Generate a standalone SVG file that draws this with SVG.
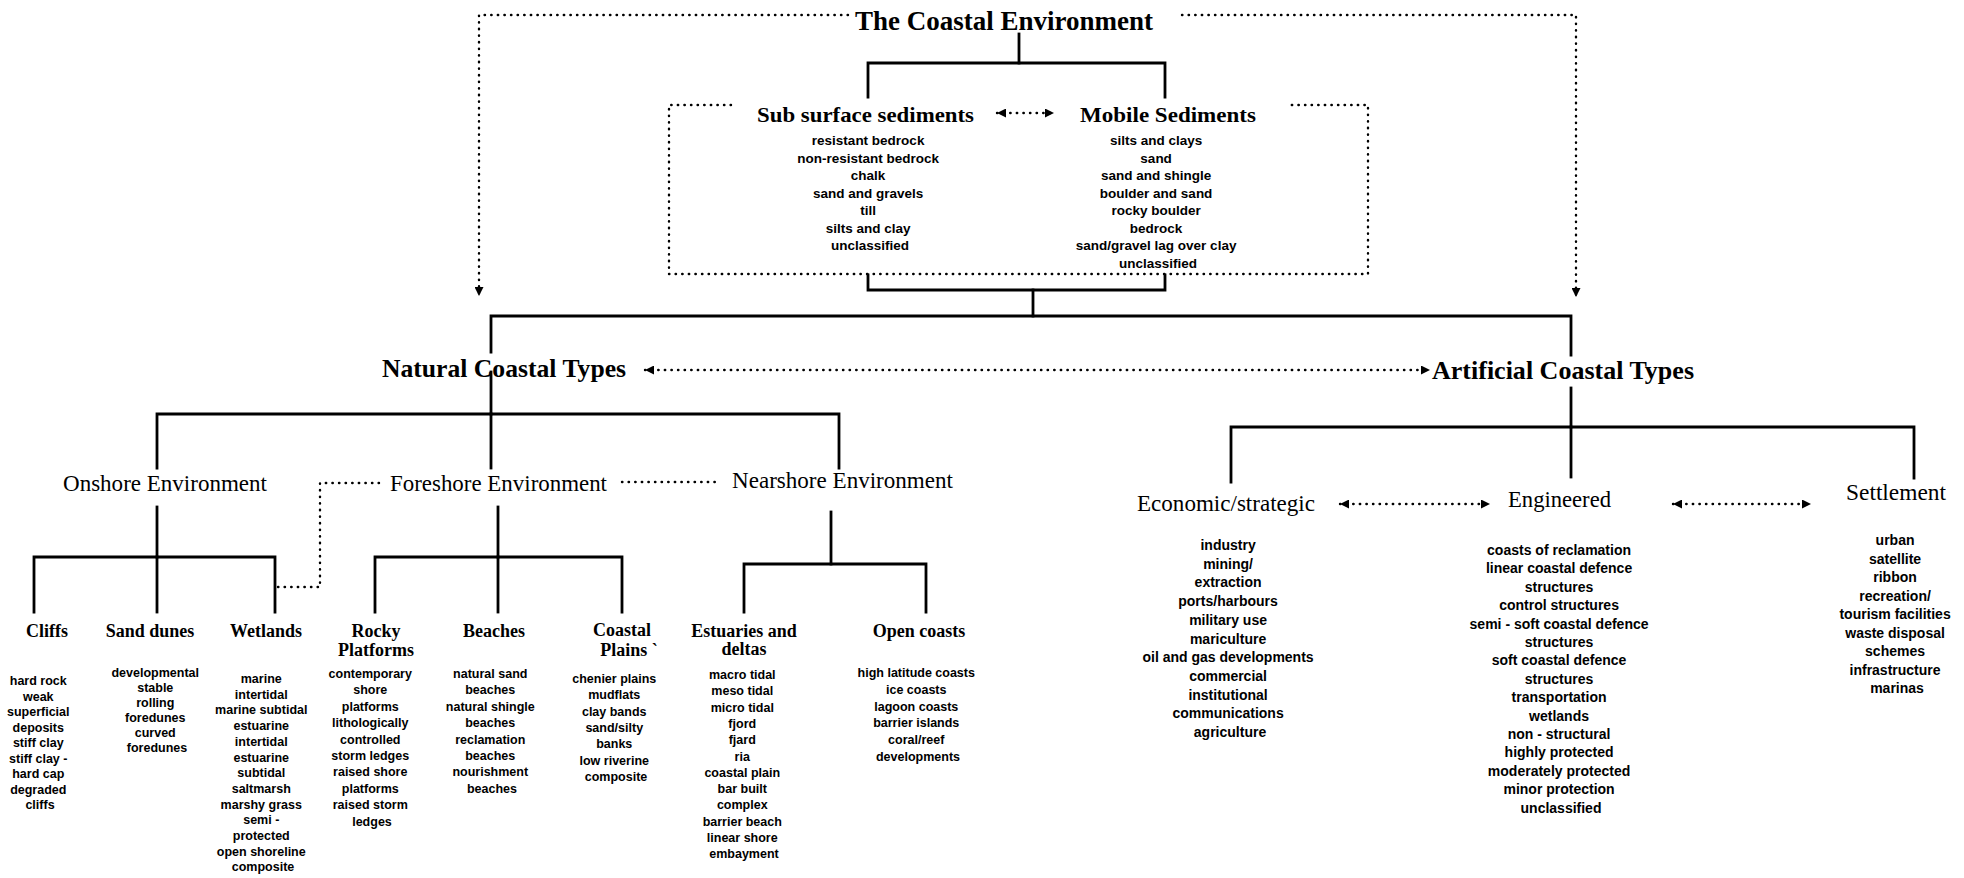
<svg xmlns="http://www.w3.org/2000/svg" width="1964" height="878" viewBox="0 0 1964 878">
  <style>
    .ln { fill: none; stroke: #000; stroke-width: 2.8; stroke-linecap: square; }
    .dot { fill: none; stroke: #000; stroke-width: 2.4; stroke-dasharray: 0.4 6.2; stroke-linecap: round; }
    text { fill: #000; }
    .h1 { font-family: "Liberation Serif", serif; font-weight: bold; font-size: 28px; }
    .h2 { font-family: "Liberation Serif", serif; font-weight: bold; font-size: 21px; }
    .h3 { font-family: "Liberation Serif", serif; font-weight: bold; font-size: 26px; }
    .env { font-family: "Liberation Serif", serif; font-size: 23px; }
    .leaf { font-family: "Liberation Serif", serif; font-weight: bold; font-size: 18px; text-anchor: middle; }
    .it { font-family: "Liberation Sans", Arial, sans-serif; font-weight: bold; font-size: 12.5px; text-anchor: middle; }
    .it2 { font-family: "Liberation Sans", Arial, sans-serif; font-weight: bold; font-size: 13.5px; text-anchor: middle; }
    .it3 { font-family: "Liberation Sans", Arial, sans-serif; font-weight: bold; font-size: 14px; text-anchor: middle; }
  </style>
  <defs>
    <marker id="ah" viewBox="0 0 10 10" refX="10" refY="5" markerWidth="9" markerHeight="9" markerUnits="userSpaceOnUse" orient="auto-start-reverse">
      <path d="M0 0 L10 5 L0 10 Z" fill="#000"/>
    </marker>
  </defs>
  <rect width="1964" height="878" fill="#fff"/>

  <!-- connectors -->
  <g id="connectors">
    <!-- dotted links and arrows -->
    <path class="dot" d="M848 15 H479 V296" marker-end="url(#ah)"/>
    <path class="dot" d="M1182 15 H1576 V297" marker-end="url(#ah)"/>
    <path class="dot" d="M731 105 H669 V274 H1368 V105 H1290"/>
    <path class="dot" d="M997 113 H1054" marker-start="url(#ah)" marker-end="url(#ah)"/>
    <path class="dot" d="M645 370 H1430" marker-start="url(#ah)" marker-end="url(#ah)"/>
    <path class="dot" d="M278 587 H320 V483 H382"/>
    <path class="dot" d="M622 482 H719"/>
    <path class="dot" d="M1340 504 H1490" marker-start="url(#ah)" marker-end="url(#ah)"/>
    <path class="dot" d="M1673 504 H1811" marker-start="url(#ah)" marker-end="url(#ah)"/>

    <!-- solid tree lines -->
    <path class="ln" d="M1019 34 V63"/>
    <path class="ln" d="M868 97 V63 H1165 V97"/>
    <path class="ln" d="M868 275 V290 H1165 V275"/>
    <path class="ln" d="M1033 290 V316"/>
    <path class="ln" d="M491 352 V316 H1571 V355"/>
    <path class="ln" d="M491 372 V414"/>
    <path class="ln" d="M157 468 V414 H839 V468"/>
    <path class="ln" d="M491 414 V468"/>
    <path class="ln" d="M157 507 V557"/>
    <path class="ln" d="M34 612 V557 H275 V612"/>
    <path class="ln" d="M157 557 V612"/>
    <path class="ln" d="M498 507 V557"/>
    <path class="ln" d="M375 612 V557 H622 V612"/>
    <path class="ln" d="M498 557 V612"/>
    <path class="ln" d="M831 512 V564"/>
    <path class="ln" d="M744 612 V564 H926 V612"/>
    <path class="ln" d="M1571 388 V427"/>
    <path class="ln" d="M1231 482 V427 H1914 V478"/>
    <path class="ln" d="M1571 427 V477"/>
  </g>

  <!-- top -->
  <g id="coastal-environment">
    <text class="h1" x="855" y="30" textLength="298" lengthAdjust="spacingAndGlyphs">The Coastal Environment</text>
  </g>

  <g id="sub-surface-sediments">
    <text class="h2" x="757" y="122" textLength="217" lengthAdjust="spacingAndGlyphs">Sub surface sediments</text>
    <text class="it2">
      <tspan x="870" y="145">resistant bedrock</tspan>
      <tspan x="870" dy="17.5">non-resistant bedrock</tspan>
      <tspan x="870" dy="17.5">chalk</tspan>
      <tspan x="870" dy="17.5">sand and gravels</tspan>
      <tspan x="870" dy="17.5">till</tspan>
      <tspan x="870" dy="17.5">silts and clay</tspan>
      <tspan x="870" dy="17.5">unclassified</tspan>
    </text>
  </g>

  <g id="mobile-sediments">
    <text class="h2" x="1080" y="122" textLength="176" lengthAdjust="spacingAndGlyphs">Mobile Sediments</text>
    <text class="it2">
      <tspan x="1158" y="145">silts and clays</tspan>
      <tspan x="1158" dy="17.5">sand</tspan>
      <tspan x="1158" dy="17.5">sand and shingle</tspan>
      <tspan x="1158" dy="17.5">boulder and sand</tspan>
      <tspan x="1158" dy="17.5">rocky boulder</tspan>
      <tspan x="1158" dy="17.5">bedrock</tspan>
      <tspan x="1158" dy="17.5">sand/gravel lag over clay</tspan>
      <tspan x="1158" dy="17.5">unclassified</tspan>
    </text>
  </g>

  <!-- natural branch -->
  <g id="natural-coastal-types">
    <text class="h3" x="382" y="377" textLength="244" lengthAdjust="spacingAndGlyphs">Natural Coastal Types</text>
  </g>

  <g id="onshore-environment">
    <text class="env" x="63" y="491" textLength="204" lengthAdjust="spacingAndGlyphs">Onshore Environment</text>
  </g>
  <g id="foreshore-environment">
    <text class="env" x="390" y="491" textLength="217" lengthAdjust="spacingAndGlyphs">Foreshore Environment</text>
  </g>
  <g id="nearshore-environment">
    <text class="env" x="732" y="488" textLength="221" lengthAdjust="spacingAndGlyphs">Nearshore Environment</text>
  </g>

  <g id="cliffs">
    <text class="leaf" x="47" y="637">Cliffs</text>
    <text class="it">
      <tspan x="40" y="685">hard rock</tspan>
      <tspan x="40" dy="15.5">weak</tspan>
      <tspan x="40" dy="15.5">superficial</tspan>
      <tspan x="40" dy="15.5">deposits</tspan>
      <tspan x="40" dy="15.5">stiff clay</tspan>
      <tspan x="40" dy="15.5">stiff clay -</tspan>
      <tspan x="40" dy="15.5">hard cap</tspan>
      <tspan x="40" dy="15.5">degraded</tspan>
      <tspan x="40" dy="15.5">cliffs</tspan>
    </text>
  </g>

  <g id="sand-dunes">
    <text class="leaf" x="150" y="637">Sand dunes</text>
    <text class="it">
      <tspan x="157" y="677">developmental</tspan>
      <tspan x="157" dy="15">stable</tspan>
      <tspan x="157" dy="15">rolling</tspan>
      <tspan x="157" dy="15">foredunes</tspan>
      <tspan x="157" dy="15">curved</tspan>
      <tspan x="157" dy="15">foredunes</tspan>
    </text>
  </g>

  <g id="wetlands">
    <text class="leaf" x="266" y="637">Wetlands</text>
    <text class="it">
      <tspan x="263" y="683">marine</tspan>
      <tspan x="263" dy="15.7">intertidal</tspan>
      <tspan x="263" dy="15.7">marine subtidal</tspan>
      <tspan x="263" dy="15.7">estuarine</tspan>
      <tspan x="263" dy="15.7">intertidal</tspan>
      <tspan x="263" dy="15.7">estuarine</tspan>
      <tspan x="263" dy="15.7">subtidal</tspan>
      <tspan x="263" dy="15.7">saltmarsh</tspan>
      <tspan x="263" dy="15.7">marshy grass</tspan>
      <tspan x="263" dy="15.7">semi -</tspan>
      <tspan x="263" dy="15.7">protected</tspan>
      <tspan x="263" dy="15.7">open shoreline</tspan>
      <tspan x="263" dy="15.7">composite</tspan>
    </text>
  </g>

  <g id="rocky-platforms">
    <text class="leaf"><tspan x="376" y="637">Rocky</tspan><tspan x="376" y="656">Platforms</tspan></text>
    <text class="it">
      <tspan x="372" y="678">contemporary</tspan>
      <tspan x="372" dy="16.4">shore</tspan>
      <tspan x="372" dy="16.4">platforms</tspan>
      <tspan x="372" dy="16.4">lithologically</tspan>
      <tspan x="372" dy="16.4">controlled</tspan>
      <tspan x="372" dy="16.4">storm ledges</tspan>
      <tspan x="372" dy="16.4">raised shore</tspan>
      <tspan x="372" dy="16.4">platforms</tspan>
      <tspan x="372" dy="16.4">raised storm</tspan>
      <tspan x="372" dy="16.4">ledges</tspan>
    </text>
  </g>

  <g id="beaches">
    <text class="leaf" x="494" y="637">Beaches</text>
    <text class="it">
      <tspan x="492" y="678">natural sand</tspan>
      <tspan x="492" dy="16.4">beaches</tspan>
      <tspan x="492" dy="16.4">natural shingle</tspan>
      <tspan x="492" dy="16.4">beaches</tspan>
      <tspan x="492" dy="16.4">reclamation</tspan>
      <tspan x="492" dy="16.4">beaches</tspan>
      <tspan x="492" dy="16.4">nourishment</tspan>
      <tspan x="492" dy="16.4">beaches</tspan>
    </text>
  </g>

  <g id="coastal-plains">
    <text class="leaf"><tspan x="622" y="636">Coastal</tspan><tspan x="629" y="656">Plains `</tspan></text>
    <text class="it">
      <tspan x="616" y="683">chenier plains</tspan>
      <tspan x="616" dy="16.3">mudflats</tspan>
      <tspan x="616" dy="16.3">clay bands</tspan>
      <tspan x="616" dy="16.3">sand/silty</tspan>
      <tspan x="616" dy="16.3">banks</tspan>
      <tspan x="616" dy="16.3">low riverine</tspan>
      <tspan x="616" dy="16.3">composite</tspan>
    </text>
  </g>

  <g id="estuaries-and-deltas">
    <text class="leaf"><tspan x="744" y="637">Estuaries and</tspan><tspan x="744" y="655">deltas</tspan></text>
    <text class="it">
      <tspan x="744" y="679">macro tidal</tspan>
      <tspan x="744" dy="16.3">meso tidal</tspan>
      <tspan x="744" dy="16.3">micro tidal</tspan>
      <tspan x="744" dy="16.3">fjord</tspan>
      <tspan x="744" dy="16.3">fjard</tspan>
      <tspan x="744" dy="16.3">ria</tspan>
      <tspan x="744" dy="16.3">coastal plain</tspan>
      <tspan x="744" dy="16.3">bar built</tspan>
      <tspan x="744" dy="16.3">complex</tspan>
      <tspan x="744" dy="16.3">barrier beach</tspan>
      <tspan x="744" dy="16.3">linear shore</tspan>
      <tspan x="744" dy="16.3">embayment</tspan>
    </text>
  </g>

  <g id="open-coasts">
    <text class="leaf" x="919" y="637">Open coasts</text>
    <text class="it">
      <tspan x="918" y="677">high latitude coasts</tspan>
      <tspan x="918" dy="16.8">ice coasts</tspan>
      <tspan x="918" dy="16.8">lagoon coasts</tspan>
      <tspan x="918" dy="16.8">barrier islands</tspan>
      <tspan x="918" dy="16.8">coral/reef</tspan>
      <tspan x="918" dy="16.8">developments</tspan>
    </text>
  </g>

  <!-- artificial branch -->
  <g id="artificial-coastal-types">
    <text class="h3" x="1432" y="379" textLength="262" lengthAdjust="spacingAndGlyphs">Artificial Coastal Types</text>
  </g>

  <g id="economic-strategic">
    <text class="env" x="1137" y="511" textLength="178" lengthAdjust="spacingAndGlyphs">Economic/strategic</text>
    <text class="it3">
      <tspan x="1230" y="550">industry</tspan>
      <tspan x="1230" dy="18.7">mining/</tspan>
      <tspan x="1230" dy="18.7">extraction</tspan>
      <tspan x="1230" dy="18.7">ports/harbours</tspan>
      <tspan x="1230" dy="18.7">military use</tspan>
      <tspan x="1230" dy="18.7">mariculture</tspan>
      <tspan x="1230" dy="18.7">oil and gas developments</tspan>
      <tspan x="1230" dy="18.7">commercial</tspan>
      <tspan x="1230" dy="18.7">institutional</tspan>
      <tspan x="1230" dy="18.7">communications</tspan>
      <tspan x="1230" dy="18.7">agriculture</tspan>
    </text>
  </g>

  <g id="engineered">
    <text class="env" x="1508" y="507" textLength="103" lengthAdjust="spacingAndGlyphs">Engineered</text>
    <text class="it3">
      <tspan x="1561" y="555">coasts of reclamation</tspan>
      <tspan x="1561" dy="18.4">linear coastal defence</tspan>
      <tspan x="1561" dy="18.4">structures</tspan>
      <tspan x="1561" dy="18.4">control structures</tspan>
      <tspan x="1561" dy="18.4">semi - soft coastal defence</tspan>
      <tspan x="1561" dy="18.4">structures</tspan>
      <tspan x="1561" dy="18.4">soft coastal defence</tspan>
      <tspan x="1561" dy="18.4">structures</tspan>
      <tspan x="1561" dy="18.4">transportation</tspan>
      <tspan x="1561" dy="18.4">wetlands</tspan>
      <tspan x="1561" dy="18.4">non - structural</tspan>
      <tspan x="1561" dy="18.4">highly protected</tspan>
      <tspan x="1561" dy="18.4">moderately protected</tspan>
      <tspan x="1561" dy="18.4">minor protection</tspan>
      <tspan x="1561" dy="18.4">unclassified</tspan>
    </text>
  </g>

  <g id="settlement">
    <text class="env" x="1846" y="500" textLength="100" lengthAdjust="spacingAndGlyphs">Settlement</text>
    <text class="it3">
      <tspan x="1897" y="545">urban</tspan>
      <tspan x="1897" dy="18.5">satellite</tspan>
      <tspan x="1897" dy="18.5">ribbon</tspan>
      <tspan x="1897" dy="18.5">recreation/</tspan>
      <tspan x="1897" dy="18.5">tourism facilities</tspan>
      <tspan x="1897" dy="18.5">waste disposal</tspan>
      <tspan x="1897" dy="18.5">schemes</tspan>
      <tspan x="1897" dy="18.5">infrastructure</tspan>
      <tspan x="1897" dy="18.5">marinas</tspan>
    </text>
  </g>
</svg>
